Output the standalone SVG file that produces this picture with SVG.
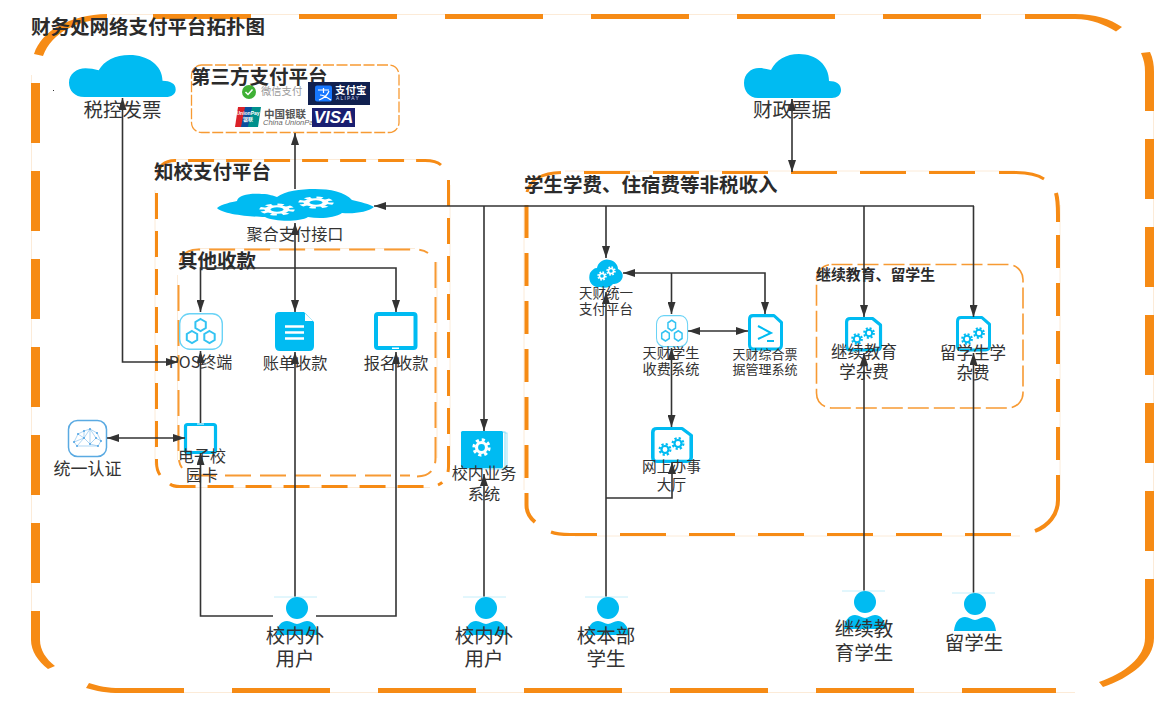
<svg xmlns="http://www.w3.org/2000/svg" width="1164" height="709" viewBox="0 0 1164 709">
<style>
text{font-family:"Noto Sans CJK SC","Liberation Sans",sans-serif;fill:#333;dominant-baseline:central;transform:translateY(-1.5px)}
.l{text-anchor:middle}
.t{font-weight:700;font-size:19.500px;fill:#2b2b2b}
.o{fill:none;stroke:#F68B15}
.of{fill:#F68B15}
.pale{fill:none;stroke:#FCEBD8;stroke-width:1}
.c{fill:none;stroke:#333;stroke-width:1.600}
.blue{fill:#00BBF2}
.doc{fill:#fff;stroke:#00BBF2;stroke-width:3;stroke-linejoin:round}
.g{stroke:#00BBF2;fill:none}
.d3{stroke-width:3;stroke-dasharray:26 12}
.d2{stroke-width:2;stroke-dasharray:26 9;stroke:#F79A33}
</style>
<defs>
<marker id="a" viewBox="0 0 12 8" refX="12" refY="4" markerWidth="12" markerHeight="8" markerUnits="userSpaceOnUse" orient="auto-start-reverse"><path d="M0 0L12 4L0 8Z" fill="#333"/></marker>
<path id="cloud" class="blue" d="M14 44C5 44 0 37 0 29C0 20 7 14 15 14C19 14 23 15 27 16C32 6 42 0 55 0C72 0 85 11 85 27C92 27 97 30 97 36C97 41 93 44 88 44Z"/>
<g id="gear"><circle r="3.2" fill="none" stroke-width="2"/><circle r="4.9" fill="none" stroke-width="2" stroke-dasharray="2 1.85"/></g>
<polygon id="hex" points="0,-6 5.2,-3 5.2,3 0,6 -5.2,3 -5.2,-3" fill="none" stroke="#33C3F2" stroke-width="2"/>
<g id="hexicon">
<rect x="0.7" y="0.7" width="42.6" height="35.6" rx="10" fill="#fff" stroke="#6AD3F6" stroke-width="1.4"/>
<use href="#hex" x="21.6" y="12"/><use href="#hex" x="13" y="24"/><use href="#hex" x="30.5" y="24"/>
</g>
<g id="person">
<line x1="-23" y1="-11" x2="20" y2="-11" stroke="#C5EEFA" stroke-width="1"/>
<circle r="11" class="blue"/>
<path class="blue" d="M-21 27C-20 18-16 13-10 13C-6 13-3 16 0 16C3 16 6 13 10 13C16 13 20 18 21 27Z"/>
</g>
<path id="filedoc" class="doc" d="M5 1.500H26L33.500 8V29Q33.500 33 29.500 33H5Q1.500 33 1.500 29V5Q1.500 1.500 5 1.500Z"/>
</defs>

<g id="panels">
<g id="panel-outer">
<path class="pale" d="M31.500 75V635M1153.500 75V635M110 14.500H1075M110 692.500H1075"/>
<line class="o" stroke-width="9" stroke-dasharray="60 28" x1="35.500" y1="83" x2="35.500" y2="611"/>
<line class="o" stroke-width="9" stroke-dasharray="60 28" x1="1149.500" y1="139" x2="1149.500" y2="551"/>
<line class="o" stroke-width="5" stroke-dasharray="98 48" x1="153" y1="16.500" x2="1000" y2="16.500"/>
<line class="o" stroke-width="5" stroke-dasharray="98 48" x1="232" y1="690.500" x2="1056" y2="690.500"/>
<path class="of" d="M34 54C42 30 70 15 107 14V19C78 20 52 32 43 56Z"/>
<path class="of" d="M1025 14H1075C1095 14 1110 19 1122 27L1116 31.500C1105 25 1092 19 1075 19H1025Z"/>
<path class="of" d="M1141 53L1150 52C1153 58 1154 65 1154 72V111H1145V72C1145 65 1144 60 1141 53Z"/>
<path class="of" d="M1145 579H1154V638C1154 660 1130 678 1103 687L1099 682C1125 673 1145 657 1145 638Z"/>
<path class="of" d="M31 611H40V640C40 650 46 659 55 666L48 669C38 661 31 651 31 640Z"/>
<path class="of" d="M89 683C98 686 108 688 120 688H184V693H120C107 693 96 691 86 688Z"/>
</g>
<g id="panel-zhixiao">
<path class="pale" d="M155 190V465M450 185V465M175 159.500H425M175 487.500H430"/>
<path class="o d3" d="M158 175Q159 161 175 160.500H425Q436 160.500 441 165"/>
<path class="o d3" d="M448.500 180V465Q449 480 438 485"/>
<path class="o d3" d="M170 484Q173 486.500 180 486.500H425"/>
<path class="o d3" d="M156.500 193V462Q156.500 470 160 475"/>
</g>
<g id="panel-other">
<path class="pale" d="M177.500 275V460M437 262V458M198 248.500H415"/>
<path class="o d2" d="M180 262Q183 249.500 198 249.500H415Q423 249.500 428 253"/>
<path class="o d2" d="M435.500 262V458Q435.500 476 417 476.500"/>
<path class="o d2" d="M190 475.500H410"/>
<path class="o d2" d="M178.500 285V455Q178.500 463 182 468"/>
</g>
<g id="panel-third">
<rect class="o" x="191.500" y="65" width="207.500" height="67.500" rx="10" stroke-width="1.300" stroke-dasharray="11 2.500" style="stroke:#F79A33"/>
</g>
<g id="panel-student">
<path class="pale" d="M524 205V490M1060 205V490M565 171H1015M575 536H1020"/>
<line class="o" stroke-width="3" stroke-dasharray="46 23" x1="584" y1="172.500" x2="976" y2="172.500"/>
<line class="o" stroke-width="3" stroke-dasharray="46 23" x1="620" y1="534.500" x2="1012" y2="534.500"/>
<line class="o" stroke-width="4" stroke-dasharray="33 15" x1="526.500" y1="205" x2="526.500" y2="478"/>
<line class="o" stroke-width="4" stroke-dasharray="33 15" x1="1058" y1="235" x2="1058" y2="460"/>
<path class="o" stroke-width="3" d="M527 192C530 180 542 173 561 172.500"/>
<path class="o" stroke-width="3" d="M999 172.500H1015C1028 172.500 1038 175 1044 179"/>
<path class="o" stroke-width="4" d="M1056 193C1058 200 1058 205 1058 215V222"/>
<path class="o" stroke-width="4" d="M1058 475V500C1058 515 1048 526 1035 531"/>
<path class="o" stroke-width="3" d="M551 532C556 534 562 534.500 570 534.500H597"/>
<path class="o" stroke-width="4" d="M526.500 493V505C526.500 512 530 518 535 522"/>
</g>
<g id="panel-continuing">
<rect class="o" x="816.500" y="264.500" width="206.500" height="143.500" rx="15" stroke-width="1.600" stroke-dasharray="21 5" style="stroke:#F79A33"/>
</g>
</g>

<g id="title"><text class="t" x="31" y="27">财务处网络支付平台拓扑图</text></g>
<rect id="speck" x="53" y="90" width="1" height="1" fill="#333"/>

<g id="node-tax"><use href="#cloud" transform="translate(69 55) scale(1.1 0.955)"/><text class="l" x="122.500" y="110" font-size="19.500">税控发票</text></g>
<g id="node-finance"><use href="#cloud" transform="translate(744 54)"/><text class="l" x="792" y="110" font-size="19.500">财政票据</text></g>

<g id="node-third">
<text class="t" x="191" y="77">第三方支付平台</text>
<circle cx="249" cy="92" r="7" fill="#3FB035"/><path d="M245.500 92L248 94.500L252.500 89.500" fill="none" stroke="#fff" stroke-width="1.500"/>
<text x="261" y="92" font-size="10.300" style="fill:#999">微信支付</text>
<rect x="308" y="82" width="62" height="23" fill="#10204F"/>
<rect x="315" y="85.500" width="17" height="16" rx="2" fill="#1677FF"/>
<path d="M318 90H329M323.500 88V93M319 100C324 98 328 94 329 91M320 95C324 95 328 98 331 100" fill="none" stroke="#fff" stroke-width="1.200"/>
<text x="335" y="91" font-size="10.500" font-weight="700" style="fill:#fff">支付宝</text>
<text x="336" y="99.500" font-size="4.800" letter-spacing="1.300" style="fill:#cfd8ee;font-family:'Liberation Sans',sans-serif">ALIPAY</text>
<path d="M238 107H249L245 127H235Z" fill="#DA2128"/><path d="M245 107H255L251 127H241Z" fill="#0B4F9E"/><path d="M252 107H261L258 127H248Z" fill="#00908C"/>
<text class="l" x="248" y="114" font-size="5" font-weight="700" style="fill:#fff;font-family:'Liberation Sans',sans-serif">UnionPay</text>
<text class="l" x="248" y="120" font-size="5" font-weight="700" style="fill:#fff">银联</text>
<text x="264" y="115" font-size="10.500" font-weight="700" style="fill:#555">中国银联</text>
<text x="263" y="124" font-size="7.500" font-style="italic" style="fill:#666;font-family:'Liberation Sans',sans-serif">China UnionPay</text>
<rect x="312" y="108" width="43" height="19" fill="#1A1F71"/>
<text class="l" x="333.500" y="119" font-size="17" font-weight="700" font-style="italic" style="fill:#fff;font-family:'Liberation Sans',sans-serif">VISA</text>
</g>

<g id="node-zhixiao-title"><text class="t" x="154" y="172">知校支付平台</text></g>
<g id="node-aggregate">
<path class="blue" d="M217 208C222 204 232 202 237 201C238 195 250 193 262 194C270 194 273 196 277 197C285 191 300 189 315 189C330 189 345 192 352 200C360 202 370 204 374 207C368 212 355 214 342 213C335 218 320 219 308 217C300 222 275 222 265 217C250 217 222 214 217 208Z"/>
<use href="#gear" stroke="#fff" transform="translate(277 209.500) scale(3 1)"/>
<use href="#gear" stroke="#fff" transform="translate(316 202.500) scale(3 1)"/>
<text class="l" x="295" y="234" font-size="16.200">聚合支付接口</text>
</g>
<g id="node-other-title"><text class="t" x="178" y="261">其他收款</text></g>
<g id="node-pos"><use href="#hexicon" x="179" y="313"/><text class="l" x="200.500" y="362.500" font-size="16">POS终端</text></g>
<g id="node-bill">
<path class="blue" d="M279 312H304L314 322V346Q314 351 309 351H280Q275 351 275 346V316Q275 312 279 312Z"/>
<path d="M305 313.500V321H313Z" fill="#fff"/>
<path d="M285 326.500H304M285 332.500H304M285 338.500H304" stroke="#fff" stroke-width="2.500"/>
<text class="l" x="295" y="363" font-size="16.200">账单收款</text>
</g>
<g id="node-signup">
<rect x="376" y="314" width="39.500" height="34" rx="2" fill="#fff" stroke="#00BBF2" stroke-width="4"/>
<rect x="392" y="347.500" width="7" height="1.500" fill="#fff"/>
<text class="l" x="396" y="363" font-size="16.200">报名收款</text>
</g>
<g id="node-card">
<rect x="185.500" y="424.500" width="30" height="28" rx="2" fill="#fff" stroke="#00BBF2" stroke-width="3.200"/>
<rect x="197" y="423.500" width="7" height="1" fill="#fff"/>
<text class="l" x="202" font-size="16"><tspan x="202" y="456">电子校</tspan><tspan x="202" y="475">园卡</tspan></text>
</g>
<g id="node-auth">
<rect x="68.500" y="420.500" width="38" height="36" rx="9" fill="#fff" stroke="#5AAAE2" stroke-width="1.500"/>
<path d="M74 442L78 434L84 431L90 429L97 433L101 441L98 446H77ZM78 434L84 438L90 429L96 438L101 441M74 442L84 438L90 444L96 438M84 431L84 438M90 429V444M77 446L84 438M98 446L90 444" fill="none" stroke="#8CC4EE" stroke-width="0.700"/>
<g fill="#4FA3E3"><circle cx="74" cy="442" r="1"/><circle cx="78" cy="434" r="1"/><circle cx="84" cy="431" r="1"/><circle cx="90" cy="429" r="1"/><circle cx="97" cy="433" r="1"/><circle cx="101" cy="441" r="1"/><circle cx="98" cy="446" r="1"/><circle cx="77" cy="446" r="1"/><circle cx="84" cy="438" r="1"/><circle cx="90" cy="444" r="1"/><circle cx="96" cy="438" r="1"/></g>
<text class="l" x="87.500" y="469" font-size="17">统一认证</text>
</g>
<g id="node-campus">
<rect x="466" y="433" width="41" height="36" fill="#fff" stroke="#9FE3F8" stroke-width="1"/>
<rect x="464" y="432" width="41" height="36" fill="#fff" stroke="#7FDBF7" stroke-width="1"/>
<rect x="461" y="431" width="42" height="37" rx="1.500" class="blue"/>
<use href="#gear" stroke="#fff" transform="translate(481.500 447.500) scale(1.550)"/>
<text class="l" x="484" font-size="16.200"><tspan x="484" y="473">校内业务</tspan><tspan x="484" y="494">系统</tspan></text>
</g>
<g id="node-tiancai-pay">
<path class="blue" d="M596 287C590 285 588 279 590 273C592 270 594 268 597 268C598 262 604 258 610 260C615 261 618 265 618 269C622 271 624 275 622 279C620 283 616 284 613 284C611 287 605 289 600 287Z"/>
<use href="#gear" stroke="#fff" transform="translate(602 276) scale(0.800)"/>
<use href="#gear" stroke="#fff" transform="translate(611 271) scale(0.800)"/>
<text class="l" x="606" font-size="13.500"><tspan x="606" y="293">天财统一</tspan><tspan x="606" y="309">支付平台</tspan></text>
</g>
<g id="node-tiancai-fee">
<use href="#hexicon" transform="translate(656 315) scale(0.73 0.87)"/>
<text class="l" x="671" font-size="14.200"><tspan x="671" y="353">天财学生</tspan><tspan x="671" y="369">收费系统</tspan></text>
</g>
<g id="node-tiancai-bill">
<use href="#filedoc" transform="translate(748 314) scale(1 1.060)"/>
<path d="M758 326L771 333L758 339M767 341H774" fill="none" stroke="#00BBF2" stroke-width="2"/>
<text class="l" x="765" font-size="13"><tspan x="765" y="354">天财综合票</tspan><tspan x="765" y="369">据管理系统</tspan></text>
</g>
<g id="node-online">
<use href="#filedoc" transform="translate(651 427) scale(1.200 1.040)"/>
<use href="#gear" class="g" transform="translate(665 449.500) scale(1.100)"/>
<use href="#gear" class="g" transform="translate(678 443.500) scale(1.100)"/>
<text class="l" x="671.500" font-size="14.700"><tspan x="671.500" y="466">网上办事</tspan><tspan x="671.500" y="484">大厅</tspan></text>
</g>
<g id="node-continuing-title"><text x="816" y="275" font-size="14.900" font-weight="700" style="fill:#2b2b2b">继续教育、留学生</text></g>
<g id="node-continuing-fee">
<use href="#filedoc" transform="translate(845 317) scale(1.060 1)"/>
<use href="#gear" class="g" transform="translate(857 339)"/>
<use href="#gear" class="g" transform="translate(869 333)"/>
<text class="l" x="864" font-size="16.500"><tspan x="864" y="352">继续教育</tspan><tspan x="864" y="372">学杂费</tspan></text>
</g>
<g id="node-foreign-fee">
<use href="#filedoc" transform="translate(956 316) scale(1 1.030)"/>
<use href="#gear" class="g" transform="translate(967 339)"/>
<use href="#gear" class="g" transform="translate(979 333)"/>
<text class="l" x="973" font-size="16.500"><tspan x="973" y="353">留学生学</tspan><tspan x="973" y="373">杂费</tspan></text>
</g>
<g id="node-student-title"><text class="t" x="524" y="185">学生学费、住宿费等非税收入</text></g>

<g id="connectors">
<path class="c" marker-start="url(#a)" marker-end="url(#a)" d="M122.500 98V362H178"/>
<path class="c" marker-start="url(#a)" marker-end="url(#a)" d="M792 99V172"/>
<path class="c" marker-end="url(#a)" d="M295 189V133"/>
<path class="c" marker-start="url(#a)" marker-end="url(#a)" d="M295 223V312"/>
<path class="c" marker-start="url(#a)" d="M374 206H974"/>
<path class="c" marker-end="url(#a)" d="M606 206V258"/>
<path class="c" marker-end="url(#a)" d="M484 206V431"/>
<path class="c" marker-end="url(#a)" d="M864 206V317"/>
<path class="c" marker-end="url(#a)" d="M973.500 206V317"/>
<path class="c" marker-end="url(#a)" d="M864 591V353"/>
<path class="c" marker-end="url(#a)" d="M973.500 593V353"/>
<path class="c" marker-end="url(#a)" d="M484 597V474"/>
<path class="c" marker-end="url(#a)" d="M606 597V292"/>
<path class="c" marker-end="url(#a)" d="M606 498H672V462"/>
<path class="c" marker-start="url(#a)" marker-end="url(#a)" d="M623 273H765V314"/>
<path class="c" marker-end="url(#a)" d="M671.500 273V314"/>
<path class="c" marker-start="url(#a)" marker-end="url(#a)" d="M688 331H748"/>
<path class="c" marker-start="url(#a)" marker-end="url(#a)" d="M671.500 348V427"/>
<path class="c" marker-start="url(#a)" marker-end="url(#a)" d="M200.500 312V268H396V312"/>
<path class="c" marker-end="url(#a)" d="M200.500 423V351"/>
<path class="c" marker-end="url(#a)" d="M295 597V352"/>
<path class="c" marker-end="url(#a)" d="M316 616H396V352"/>
<path class="c" marker-end="url(#a)" d="M273 616H200.500V453"/>
<path class="c" marker-start="url(#a)" marker-end="url(#a)" d="M107 438H185"/>
</g>

<g id="user-outer-1"><use href="#person" x="297" y="608"/><text class="l" x="295" font-size="19.500"><tspan x="295" y="635">校内外</tspan><tspan x="295" y="658">用户</tspan></text></g>
<g id="user-outer-2"><use href="#person" x="486" y="608"/><text class="l" x="484" font-size="19.500"><tspan x="484" y="635">校内外</tspan><tspan x="484" y="658">用户</tspan></text></g>
<g id="user-main"><use href="#person" x="608" y="608"/><text class="l" x="606" font-size="19.500"><tspan x="606" y="635">校本部</tspan><tspan x="606" y="658">学生</tspan></text></g>
<g id="user-continuing"><use href="#person" x="865" y="602"/><text class="l" x="864" font-size="19.500"><tspan x="864" y="628">继续教</tspan><tspan x="864" y="652">育学生</tspan></text></g>
<g id="user-foreign"><use href="#person" x="975" y="604"/><text class="l" x="974" y="643" font-size="19.500">留学生</text></g>
</svg>
